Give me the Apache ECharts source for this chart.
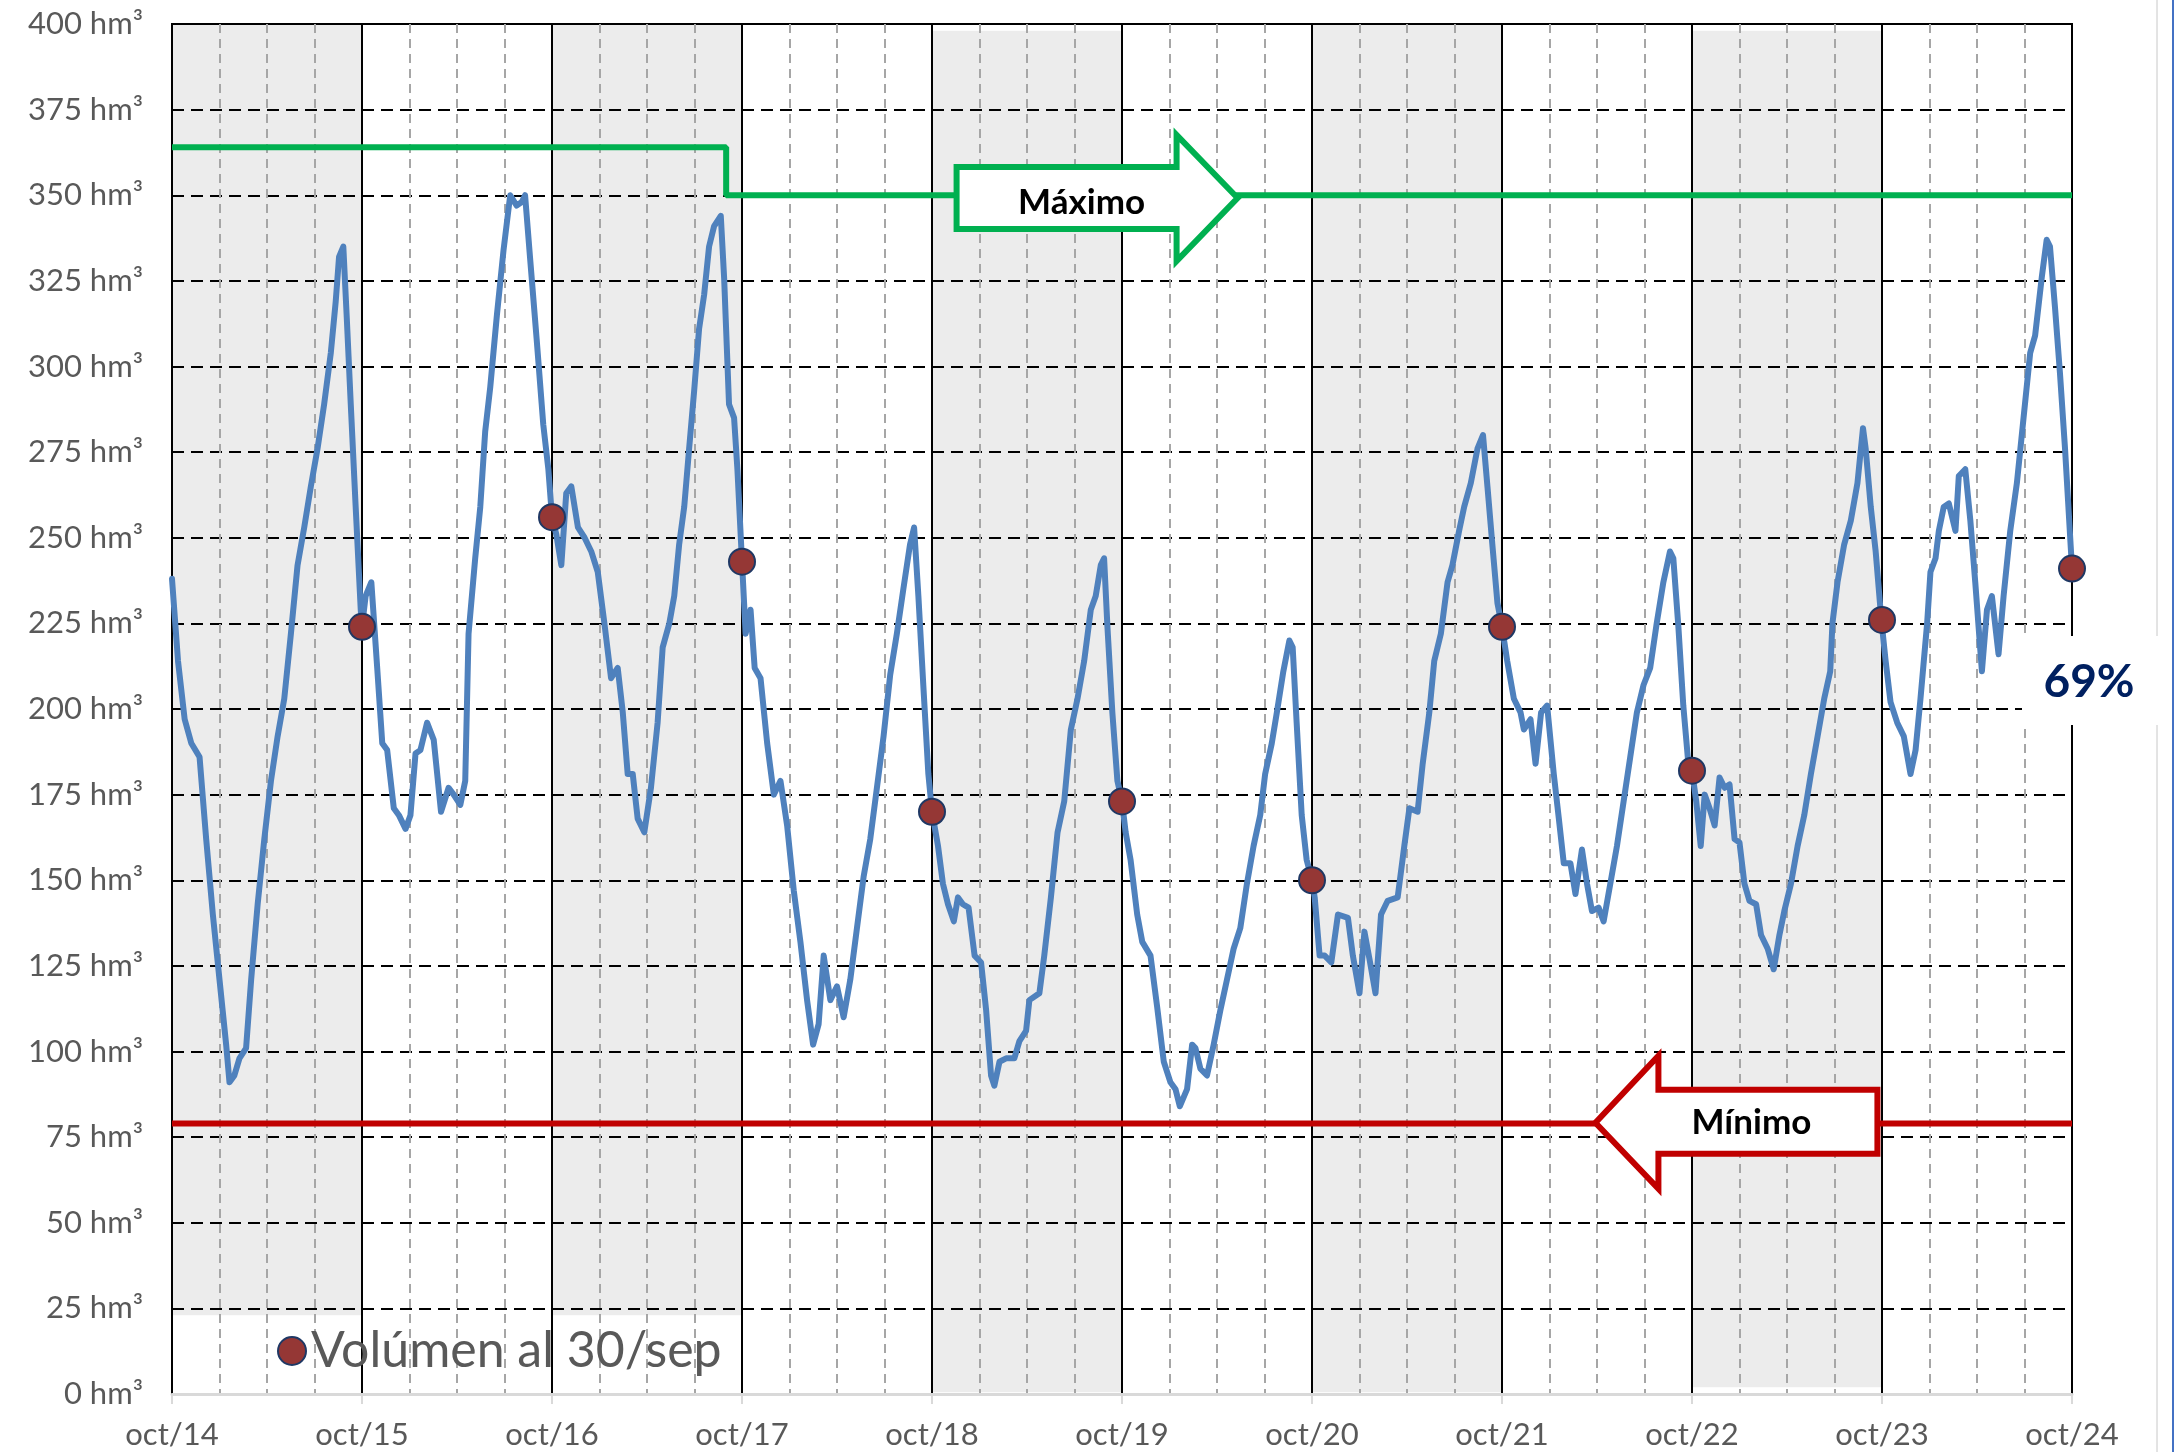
<!DOCTYPE html>
<html>
<head>
<meta charset="utf-8">
<script src="https://cdn.jsdelivr.net/npm/echarts/dist/echarts.min.js"></script>
<style>
html,body{margin:0;padding:0;background:#fff;}
#chart{width:2175px;height:1452px;}
</style>
</head>
<body>
<div id="chart"></div>
<script>
// ---------- DATA ----------
// x = months since October 2014
const xTickLabels = ['oct/14','oct/15','oct/16','oct/17','oct/18','oct/19','oct/20','oct/21','oct/22','oct/23','oct/24'];
const yUnit = ' hm³';

// Reservoir volume (hm³), one array per hydrological year: [month, value]
const vol2014_15 = [[0,238],[0.38,214],[0.8,197],[1.22,190],[1.74,186],[2.16,162],[2.58,140],[3.0,121],[3.42,102],[3.63,91],[3.94,93],[4.26,98],[4.68,101],[5.0,121],[5.41,143],[5.83,162],[6.25,179],[6.67,192],[7.09,203],[7.51,222],[7.93,242],[8.35,253],[8.77,265],[9.19,276],[9.61,289],[10.03,304],[10.34,319],[10.55,332],[10.82,335],[11.03,315],[11.29,289],[11.6,259],[11.92,229]];
const vol2015_16 = [[12.0,224],[12.23,233],[12.59,237],[12.96,212],[13.28,190],[13.59,188],[14.01,171],[14.33,169],[14.75,165],[15.06,169],[15.38,187],[15.69,188],[16.11,196],[16.53,191],[16.99,170],[17.47,177],[17.79,175],[18.21,172],[18.52,179],[18.73,222],[19.15,244],[19.47,259],[19.78,281],[20.1,294],[20.52,315],[20.94,334],[21.36,350],[21.77,347],[22.09,348],[22.3,350],[22.61,332],[23.03,308],[23.45,283],[23.77,270]];
const vol2016_17 = [[24.0,256],[24.27,251],[24.59,242],[24.9,263],[25.22,265],[25.64,253],[26.06,250],[26.48,246],[26.89,240],[27.31,225],[27.73,209],[28.15,212],[28.47,199],[28.78,181],[29.1,181],[29.41,168],[29.83,164],[30.25,177],[30.67,196],[30.99,218],[31.41,225],[31.72,233],[32.03,248],[32.35,259],[32.66,276],[32.98,293],[33.29,311],[33.61,321],[33.92,335],[34.24,341],[34.66,344],[34.87,326],[35.18,289],[35.5,285],[35.71,270]];
const vol2017_18 = [[36.0,243],[36.23,222],[36.54,229],[36.8,212],[37.17,209],[37.59,190],[38.01,175],[38.43,179],[38.85,166],[39.27,147],[39.69,132],[40.11,115],[40.49,102],[40.84,108],[41.16,128],[41.58,115],[42.0,119],[42.42,110],[42.84,121],[43.26,136],[43.68,151],[44.1,162],[44.52,177],[44.94,192],[45.36,210],[45.78,222],[46.19,235],[46.61,248],[46.87,253],[47.14,233],[47.45,207],[47.77,181]];
const vol2018_19 = [[48.0,170],[48.38,160],[48.69,149],[49.01,143],[49.38,138],[49.64,145],[49.95,143],[50.31,142],[50.69,128],[51.1,126],[51.42,112],[51.73,93],[51.94,90],[52.26,97],[52.68,98],[53.2,98],[53.52,103],[53.94,106],[54.15,115],[54.78,117],[55.09,128],[55.51,145],[55.93,164],[56.35,173],[56.77,194],[57.19,203],[57.61,214],[58.03,229],[58.34,233],[58.66,242],[58.87,244],[59.08,224],[59.39,199],[59.71,179]];
const vol2019_20 = [[60.0,173],[60.23,164],[60.54,156],[60.96,140],[61.28,132],[61.8,128],[62.22,113],[62.64,97],[63.06,91],[63.38,89],[63.65,84],[64.11,89],[64.43,102],[64.64,101],[64.95,95],[65.37,93],[65.79,102],[66.21,112],[66.63,121],[67.05,130],[67.47,136],[67.89,149],[68.31,160],[68.73,169],[69.04,181],[69.46,190],[69.78,199],[70.19,211],[70.57,220],[70.78,218],[71.03,196],[71.35,169],[71.66,156]];
const vol2020_21 = [[72.0,150],[72.17,145],[72.48,128],[72.8,128],[73.22,126],[73.64,140],[74.27,139],[74.58,128],[75.0,117],[75.31,135],[75.63,127],[76.01,117],[76.36,140],[76.78,144],[77.41,145],[77.83,160],[78.15,171],[78.67,170],[78.99,184],[79.41,199],[79.72,214],[80.14,222],[80.56,237],[80.87,242],[81.29,252],[81.61,259],[82.03,266],[82.45,276],[82.8,280],[83.08,265],[83.39,248],[83.71,231]];
const vol2021_22 = [[84.0,224],[84.33,214],[84.75,203],[85.17,199],[85.38,194],[85.8,197],[86.12,184],[86.47,199],[86.85,201],[87.27,181],[87.59,168],[87.9,155],[88.32,155],[88.64,146],[89.05,159],[89.37,149],[89.68,141],[90.1,142],[90.42,138],[90.84,149],[91.26,160],[91.68,173],[92.1,186],[92.52,199],[92.94,207],[93.36,212],[93.77,225],[94.19,237],[94.61,246],[94.82,244],[95.14,224],[95.45,201],[95.77,184]];
const vol2022_23 = [[96.0,182],[96.27,173],[96.55,160],[96.8,175],[97.11,171],[97.43,166],[97.74,180],[98.06,177],[98.37,178],[98.69,162],[99.0,161],[99.31,149],[99.63,144],[100.05,143],[100.36,134],[100.78,130],[101.16,124],[101.52,134],[101.83,141],[102.25,149],[102.67,160],[103.09,169],[103.51,181],[103.93,192],[104.35,203],[104.73,211],[104.87,225],[105.19,237],[105.61,248],[106.03,255],[106.45,266],[106.8,282],[106.97,276],[107.29,259],[107.6,246]];
const vol2023_24 = [[107.96,226],[108.23,214],[108.54,202],[108.96,196],[109.38,192],[109.8,181],[110.12,188],[110.43,203],[110.85,225],[111.06,240],[111.38,244],[111.59,252],[111.9,259],[112.22,260],[112.64,252],[112.85,268],[113.26,270],[113.58,255],[113.89,237],[114.31,211],[114.63,229],[114.94,233],[115.36,216],[115.68,233],[116.1,252],[116.52,266],[116.94,285],[117.36,304],[117.67,309],[118.09,326],[118.4,337],[118.61,335],[118.93,317],[119.24,298],[119.56,276],[120.0,241]];

// Volume on 30 September each year
const sepMonths = [12,24,36,48,60,72,84,96,108,120];
const sepValues = [224,256,243,170,173,150,224,182,226,241];
const sepSeriesName = 'Volúmen al 30/sep';

// Maximum / minimum operating levels
const maxMonths = [0,35,35,120];
const maxValues = [364,364,350,350];
const minMonths = [0,120];
const minValues = [79,79];

// Shaded (alternate) years
const bandStart = [0,24,48,72,96];
const bandEnd = [12,36,60,84,108];
const bandBottom = [23,23,0.5,0.5,2];
const bandTop = [400,400,398,400,398];

const maxLabel = 'Máximo';
const minLabel = 'Mínimo';
const currentPct = '69%';
// annotation anchors (data units)
const maxArrowTip = [67.3, 349.2];
const minArrowTip = [89.9, 79.2];
const pctAnchor = [120, 200];

// ---------- CHART ----------
const volumeData = [].concat(vol2014_15, vol2015_16, vol2016_17, vol2017_18, vol2018_19,
  vol2019_20, vol2020_21, vol2021_22, vol2022_23, vol2023_24);

const chart = echarts.init(document.getElementById('chart'), null, {renderer:'canvas'});
const FONT = 'Lato, "Open Sans", sans-serif';

chart.setOption({
  animation: false,
  backgroundColor: '#ffffff',
  textStyle: {fontFamily: FONT},
  grid: {left:172, right:103, top:24, bottom:58, show:true, borderColor:'#000', borderWidth:2, backgroundColor:'#fff'},
  legend: {
    data: [sepSeriesName], left: 272, top: 1321, icon: 'circle',
    itemWidth: 28, itemHeight: 28, itemGap: 0,
    textStyle: {fontSize: 50, color: '#595959', fontFamily: FONT}
  },
  xAxis: {
    type: 'value', min: 0, max: 120, interval: 12, z: 2,
    axisLine: {show: true, onZero: false, lineStyle: {color: '#d9d9d9', width: 3}},
    axisTick: {show: true, length: 10, lineStyle: {color: '#d9d9d9', width: 2}},
    axisLabel: {formatter: v => xTickLabels[Math.round(v/12)], fontSize: 31, color: '#595959', fontFamily: FONT, margin: 25},
    splitLine: {show: true, lineStyle: {color: '#000', width: 2}},
    minorTick: {show: false, splitNumber: 4},
    minorSplitLine: {show: true, lineStyle: {color: '#a6a6a6', width: 2, type: [9,6]}}
  },
  yAxis: {
    type: 'value', min: 0, max: 400, interval: 25,
    axisLine: {show: true, lineStyle: {color: '#000', width: 2}},
    axisTick: {show: false},
    axisLabel: {formatter: v => v + yUnit, fontSize: 31, color: '#595959', fontFamily: FONT, margin: 29},
    splitLine: {show: true, lineStyle: {color: '#000', width: 2, type: [12,7]}}
  },
  series: [
    {
      name: 'bands', type: 'line', data: [], silent: true, z: 1,
      markArea: {
        silent: true,
        itemStyle: {color: 'rgba(0,0,0,0.075)'},
        data: bandStart.map((s,i) => [{xAxis: s, yAxis: bandBottom[i]}, {xAxis: bandEnd[i], yAxis: bandTop[i]}])
      }
    },
    {
      name: 'Máximo', type: 'line', data: maxMonths.map((m,i) => [m, maxValues[i]]),
      symbol: 'none', lineStyle: {color: '#00B050', width: 6}, z: 3, silent: true
    },
    {
      name: 'Mínimo', type: 'line', data: minMonths.map((m,i) => [m, minValues[i]]),
      symbol: 'none', lineStyle: {color: '#C00000', width: 6}, z: 3, silent: true
    },
    {
      name: 'Volumen', type: 'line', data: volumeData, symbol: 'none',
      lineStyle: {color: '#4F81BD', width: 6, join: 'round', cap: 'round'}, z: 4, silent: true
    },
    {
      name: sepSeriesName, type: 'scatter', data: sepMonths.map((m,i) => [m, sepValues[i]]),
      symbolSize: 26, itemStyle: {color: '#953735', borderColor: '#1F3864', borderWidth: 2, opacity: 1}, z: 6
    }
  ]
});

// ---------- ANNOTATIONS ----------
const px = p => chart.convertToPixel({gridIndex: 0}, p);
const mt = px(maxArrowTip), nt = px(minArrowTip), pa = px(pctAnchor);
const maxPts = [
  [mt[0], mt[1]], [mt[0]-61, mt[1]-63], [mt[0]-61, mt[1]-31], [mt[0]-281, mt[1]-31],
  [mt[0]-281, mt[1]+31], [mt[0]-61, mt[1]+31], [mt[0]-61, mt[1]+63]
];
const minPts = [
  [nt[0], nt[1]], [nt[0]+63, nt[1]-67], [nt[0]+63, nt[1]-33], [nt[0]+282, nt[1]-33],
  [nt[0]+282, nt[1]+31], [nt[0]+63, nt[1]+31], [nt[0]+63, nt[1]+66]
];
chart.setOption({
  graphic: [
    {type:'polygon', z:20, shape:{points:maxPts}, style:{fill:'#fff', stroke:'#00B050', lineWidth:6, lineJoin:'miter'}},
    {type:'text', z:21, x: mt[0]-156, y: mt[1]+5, style:{text:maxLabel, font:'bold 35px Lato', fill:'#000', align:'center', verticalAlign:'middle'}},
    {type:'polygon', z:20, shape:{points:minPts}, style:{fill:'#fff', stroke:'#C00000', lineWidth:6, lineJoin:'miter'}},
    {type:'text', z:21, x: nt[0]+156, y: nt[1], style:{text:minLabel, font:'bold 35px Lato', fill:'#000', align:'center', verticalAlign:'middle'}},
    {type:'rect', z:20, shape:{x: pa[0]-50, y: pa[1]-73, width: 138, height: 89}, style:{fill:'#fff'}},
    {type:'text', z:21, x: pa[0]+17, y: pa[1]-27, style:{text:currentPct, font:'bold 46px Lato', fill:'#002060', align:'center', verticalAlign:'middle'}},
    {type:'line', z:5, shape:{x1:2157, y1:0, x2:2157, y2:1452}, style:{stroke:'#c8c8c8', lineWidth:1}},
    {type:'line', z:5, shape:{x1:2173, y1:0, x2:2173, y2:1452}, style:{stroke:'#4472c4', lineWidth:2}}
  ]
});
</script>
</body>
</html>
